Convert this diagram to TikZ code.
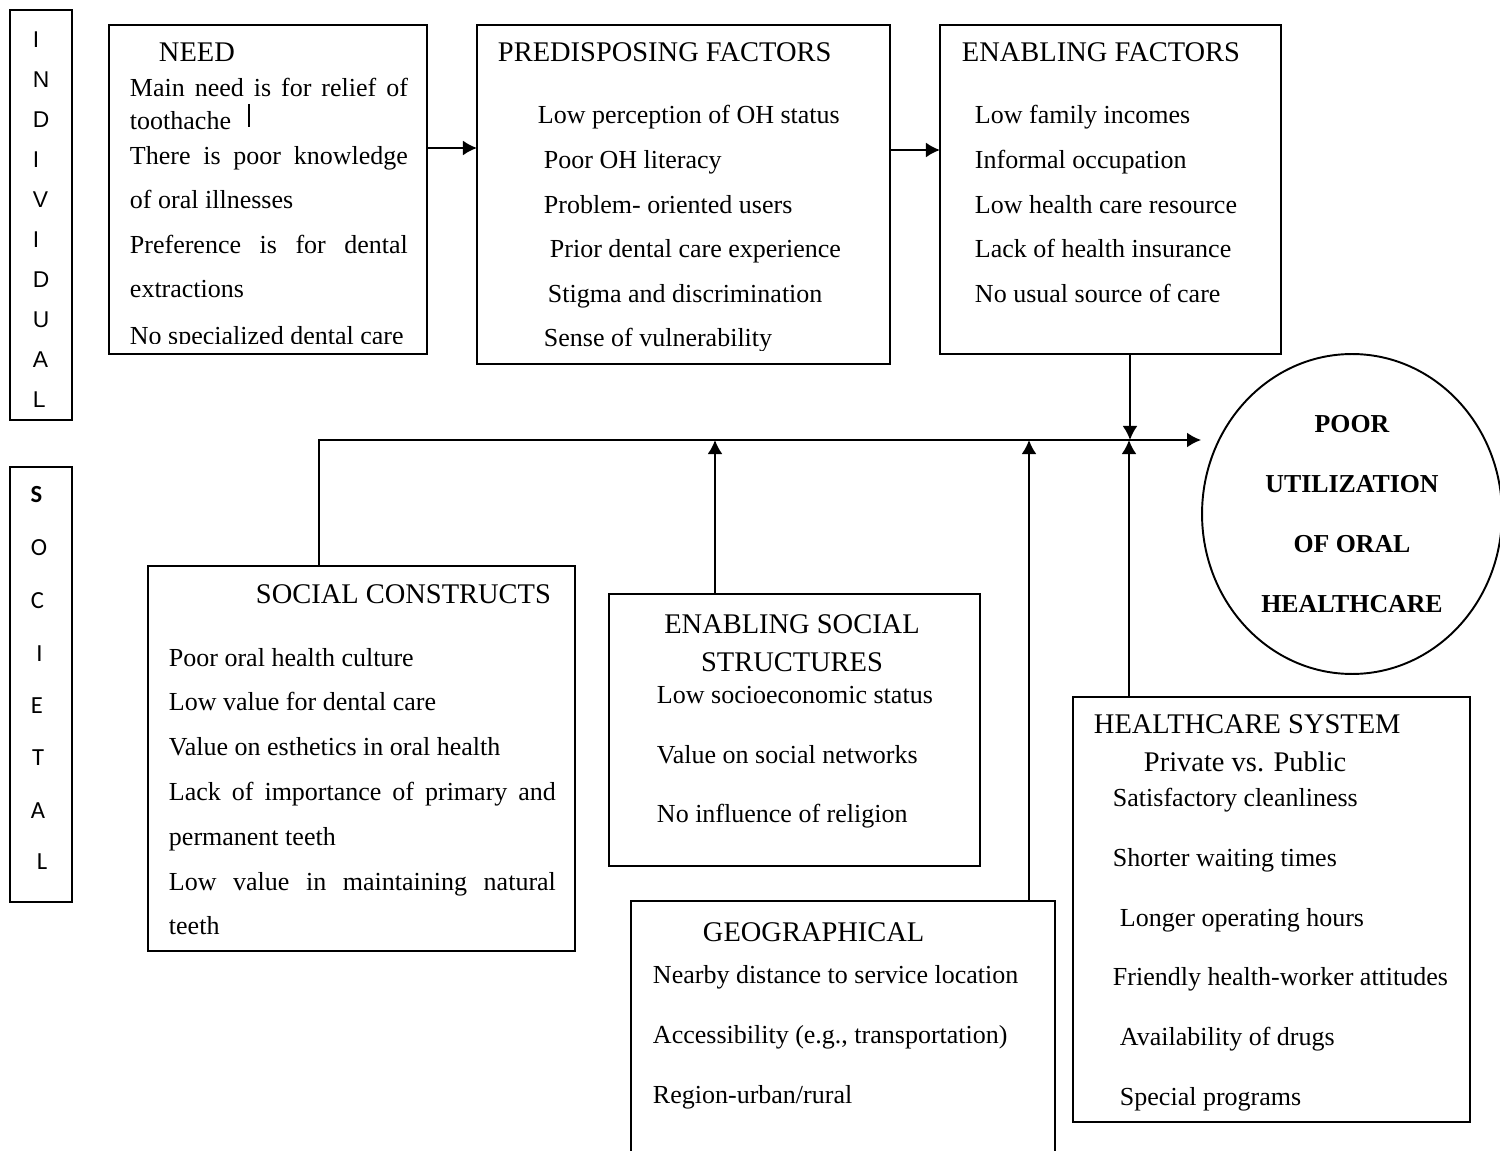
\documentclass[tikz,border=0pt]{standalone}
\usepackage{fontspec}
\setmainfont{Liberation Serif}
\newfontfamily\arialfont{Liberation Sans}
\newfontfamily\calibrifont{Carlito}
\usetikzlibrary{arrows.meta,shapes.geometric}

\begin{document}
\begin{tikzpicture}[x=0.02cm,y=-0.02cm,line width=1.1pt,
  box/.style={draw,rectangle,anchor=north west,inner sep=0pt,outer sep=0pt},
  txt/.style={anchor=base west,inner sep=0pt,font=\fontsize{14.8}{18}\selectfont},
  head/.style={anchor=base west,inner sep=0pt,font=\fontsize{16.2}{19}\selectfont},
  lind/.style={anchor=west,inner sep=0pt,font=\arialfont\fontsize{13}{15}\selectfont},
  lsoc/.style={inner sep=0pt,font=\calibrifont\fontsize{14}{16}\selectfont},
  arr/.style={-{Latex[length=8pt,width=8.5pt]}}]
 \useasboundingbox (0,0) rectangle (1500,1151);
 \node[box,minimum width=1.24cm,minimum height=8.2cm](indiv)at(10,10){};
 \node[box,minimum width=1.24cm,minimum height=8.7cm](societal)at(10,467){};
 \node[box,minimum width=6.36cm,minimum height=6.58cm](need)at(109,25){};
 \node[box,minimum width=8.26cm,minimum height=6.78cm](predis)at(477,25){};
 \node[box,minimum width=6.82cm,minimum height=6.58cm](enabling)at(940,25){};
 \node[box,minimum width=8.54cm,minimum height=7.7cm](constructs)at(148,566){};
 \node[box,minimum width=7.42cm,minimum height=5.44cm](structures)at(609,594){};
 \node[box,minimum width=8.48cm,minimum height=5.4cm](geo)at(631,901){};
 \node[box,minimum width=7.94cm,minimum height=8.5cm](hcs)at(1073,697){};
 \node[draw,ellipse,minimum width=6cm,minimum height=6.4cm,inner sep=0pt,align=center,
       font=\fontsize{14.7}{34.1}\selectfont\bfseries](outcome)at(1352,514)
       {POOR\\UTILIZATION\\OF ORAL\\HEALTHCARE};
 \node[lind](ind0)at(32,39.5){I};
 \node[lind](ind1)at(32,79.5){N};
 \node[lind](ind2)at(32,119.5){D};
 \node[lind](ind3)at(32,159.5){I};
 \node[lind](ind4)at(32,199.5){V};
 \node[lind](ind5)at(32,239.5){I};
 \node[lind](ind6)at(32,279.5){D};
 \node[lind](ind7)at(32,319.5){U};
 \node[lind](ind8)at(32,359.5){A};
 \node[lind](ind9)at(32,399.5){L};
 \node[lsoc](soc0)at(36.5,495){\bfseries S};
 \node[lsoc](soc1)at(39,548){O};
 \node[lsoc](soc2)at(37.5,601){C};
 \node[lsoc](soc3)at(39.5,654){I};
 \node[lsoc](soc4)at(37,706){E};
 \node[lsoc](soc5)at(38,758){T};
 \node[lsoc](soc6)at(38,811){A};
 \node[lsoc](soc7)at(42,862){L};
 \node[head](need0)at(158,62){NEED};
 \node[txt](need1)at(129,97){\makebox[5.56cm][s]{Main need is for relief of}};
 \node[txt](need2)at(129,130){toothache};
 \node[txt](need3)at(129,165){\makebox[5.56cm][s]{There is poor knowledge}};
 \node[txt](need4)at(129,209){of oral illnesses};
 \node[txt](need5)at(129,254){\makebox[5.56cm][s]{Preference is for dental}};
 \node[txt](need6)at(129,298){extractions};
 \begin{scope}
  \clip (need.north west) rectangle (427,344);
  \node[txt](need7)at(129,345){No specialized dental care};
 \end{scope}
 \draw[line width=0.8pt] (249,104) -- (249,127);
 \node[head](predis0)at(497,62){PREDISPOSING FACTORS};
 \node[txt](predis1)at(537,124){Low perception of OH status};
 \node[txt](predis2)at(543,169){Poor OH literacy};
 \node[txt](predis3)at(543,214){Problem- oriented users};
 \node[txt](predis4)at(549,258){Prior dental care experience};
 \node[txt](predis5)at(547,303){Stigma and discrimination};
 \begin{scope}
  \clip (predis.north west) rectangle (890,351);
  \node[txt](predis6)at(543,347){Sense of vulnerability};
 \end{scope}
 \node[head](enabling0)at(961,62){ENABLING FACTORS};
 \node[txt](enabling1)at(974,124){Low family incomes};
 \node[txt](enabling2)at(974,169){Informal occupation};
 \node[txt](enabling3)at(974,214){Low health care resource};
 \node[txt](enabling4)at(974,258){Lack of health insurance};
 \node[txt](enabling5)at(974,303){No usual source of care};
 \node[head](constructs0)at(255,603){SOCIAL CONSTRUCTS};
 \node[txt](constructs1)at(168,666){Poor oral health culture};
 \node[txt](constructs2)at(168,710){Low value for dental care};
 \node[txt](constructs3)at(168,755){Value on esthetics in oral health};
 \node[txt](constructs4)at(168,800){\makebox[7.74cm][s]{Lack of importance of primary and}};
 \node[txt](constructs5)at(168,845){permanent teeth};
 \node[txt](constructs6)at(168,890){\makebox[7.74cm][s]{Low value in maintaining natural}};
 \node[txt](constructs7)at(168,934){teeth};
 \node[head,anchor=base](structures0)at(792,633){ENABLING SOCIAL};
 \node[head,anchor=base](structures1)at(792,671){STRUCTURES};
 \node[txt](structures2)at(656,703){Low socioeconomic status};
 \node[txt](structures3)at(656,763){Value on social networks};
 \node[txt](structures4)at(656,822){No influence of religion};
 \node[head](geo0)at(702,941){GEOGRAPHICAL};
 \node[txt](geo1)at(652,983){Nearby distance to service location};
 \node[txt](geo2)at(652,1043){Accessibility (e.g., transportation)};
 \node[txt](geo3)at(652,1103){Region-urban/rural};
 \node[head](hcs0)at(1093,733){HEALTHCARE SYSTEM};
 \node[head](hcs1)at(1143,771){Private vs. Public};
 \node[txt](hcs2)at(1112,806){Satisfactory cleanliness};
 \node[txt](hcs3)at(1112,866){Shorter waiting times};
 \node[txt](hcs4)at(1119,926){Longer operating hours};
 \node[txt](hcs5)at(1112,985){Friendly health-worker attitudes};
 \node[txt](hcs6)at(1119,1045){Availability of drugs};
 \node[txt](hcs7)at(1119,1105){Special programs};
 \coordinate (row1) at (0,148);
 \coordinate (row2) at (0,150);
 \coordinate (hub) at (1130,440);
 \coordinate (bend) at (319,440);
 \coordinate (j1) at (715,440);
 \coordinate (j2) at (1029,440);
 \coordinate (j3) at (1129,440);
 \draw[arr] (need.east |- row1) -- (predis.west |- row1);
 \draw[arr] (predis.east |- row2) -- (enabling.west |- row2);
 \draw[arr] (enabling.south -| hub) -- (hub);
 \draw[arr] (constructs.north -| bend) -- (bend) -- (hub -| outcome.west);
 \draw[arr] (structures.north -| j1) -- (j1);
 \draw[arr] (geo.north -| j2) -- (j2);
 \draw[arr] (hcs.north -| j3) -- (j3);
\end{tikzpicture}
\end{document}
